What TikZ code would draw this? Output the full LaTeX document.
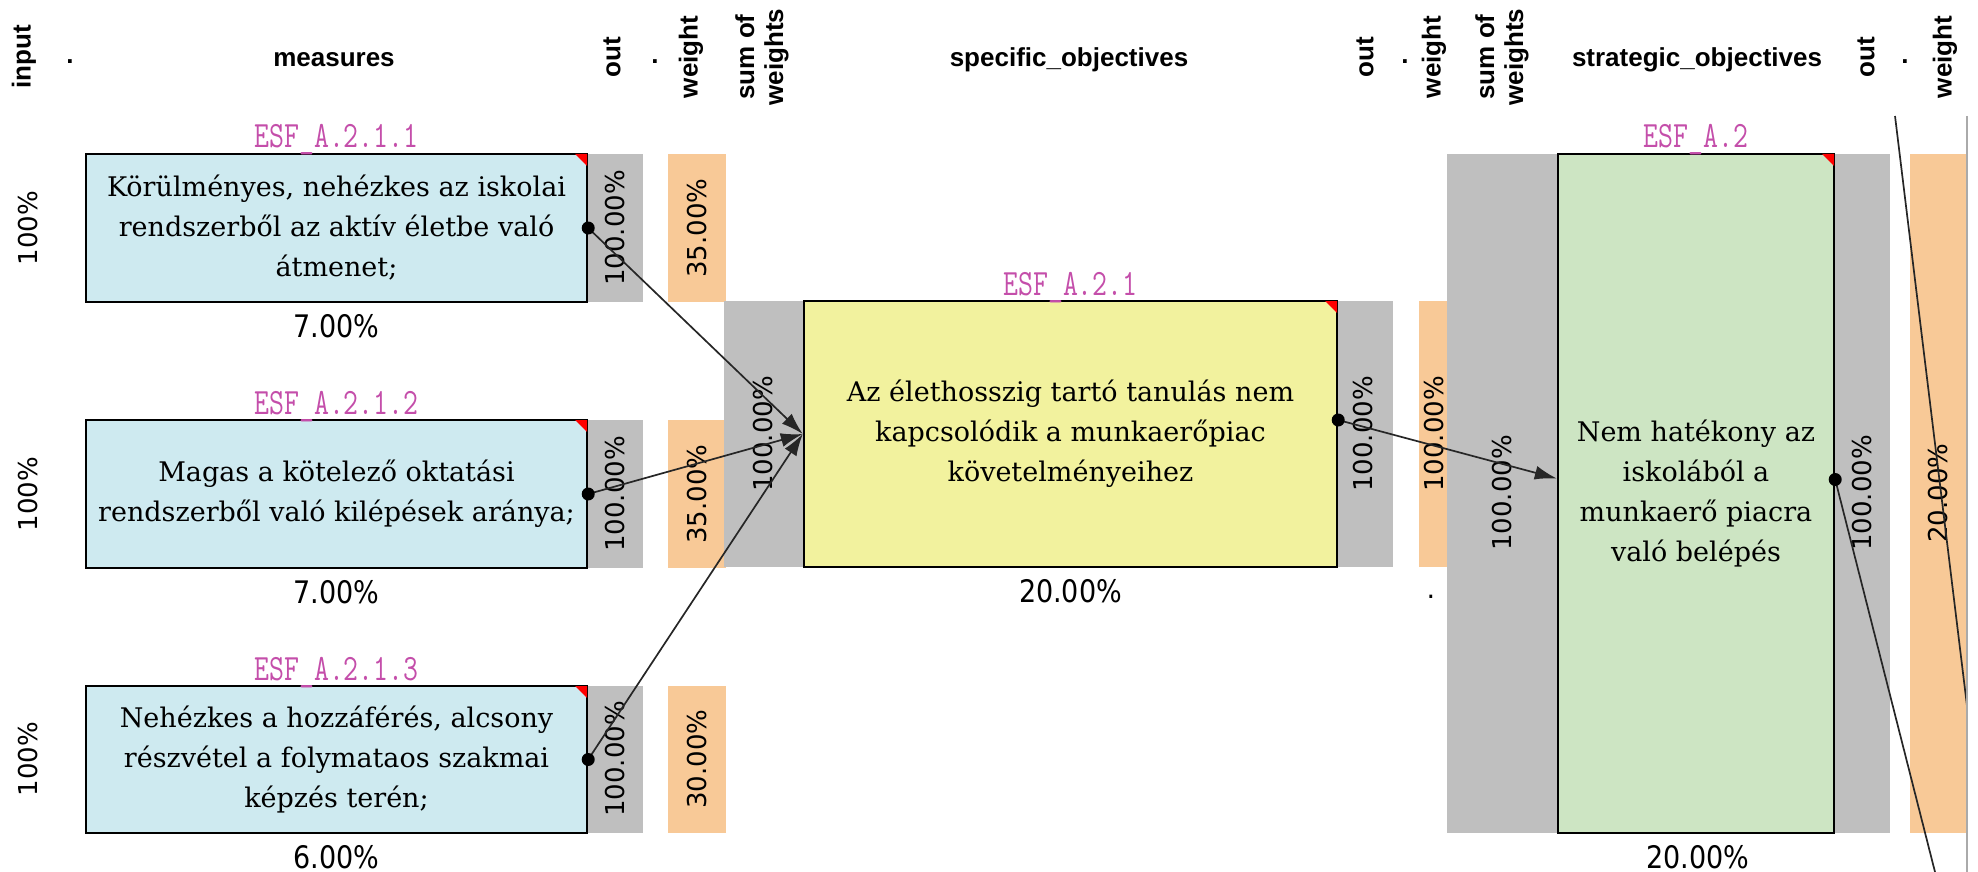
\documentclass[tikz,border=0pt]{standalone}
\usepackage{fontspec}
\usepackage{graphicx}
\setmainfont{DejaVu Serif}
\newfontfamily\hdrfont{Liberation Sans}
\newfontfamily\pctfont{DejaVu Sans}
\usetikzlibrary{arrows.meta,calc}
\definecolor{mblue}{RGB}{206,234,240}
\definecolor{syell}{RGB}{242,242,158}
\definecolor{sgreen}{RGB}{205,229,195}
\definecolor{cgray}{RGB}{191,191,191}
\definecolor{corange}{RGB}{248,201,151}
\definecolor{cpink}{RGB}{196,78,170}
\definecolor{edgegray}{RGB}{170,170,170}
\newcommand{\tallesf}[1]{\scalebox{1}[1.28]{#1}}
\newcommand{\tallpct}[1]{\scalebox{1}[1.15]{#1}}
\begin{document}
\begin{tikzpicture}[x=1pt,y=-1pt,
  hdr/.style={font=\hdrfont\bfseries\fontsize{26}{29}\selectfont, inner sep=0pt, align=center},
  vhdr/.style={hdr, rotate=90},
  pct/.style={font=\pctfont\fontsize{27}{28}\selectfont, inner sep=0pt},
  vpct/.style={font=\pctfont\fontsize{26}{28}\selectfont, inner sep=0pt, rotate=90},
  esf/.style={font=\ttfamily\fontsize{29}{30}\selectfont, text=cpink, inner sep=0pt, anchor=base},
  mbox/.style={draw=black, line width=2.4pt, inner sep=0pt, align=center,
    font=\fontsize{27}{40}\selectfont},
  graycol/.style={fill=cgray},
  orangecol/.style={fill=corange},
  conn/.style={draw=black!85, line width=1.7pt},
  arr/.style={conn, -{Latex[length=22pt,width=14pt]}},
  portdot/.style={fill=black},
  corner/.style={fill=red}
]
\useasboundingbox (0,0) rectangle (1978,872);

% ---------- columns ----------
\fill[graycol] (587,154) rectangle (643,302);
\fill[graycol] (587,420) rectangle (643,568);
\fill[graycol] (587,686) rectangle (643,833);
\fill[orangecol] (668,154) rectangle (726,302);
\fill[orangecol] (668,420) rectangle (726,568);
\fill[orangecol] (668,686) rectangle (726,833);
\fill[graycol] (724,301) rectangle (804,567);
\fill[graycol] (1337,301) rectangle (1393,567);
\fill[orangecol] (1419,301) rectangle (1447,567);
\fill[graycol] (1447,154) rectangle (1558,833);
\fill[graycol] (1834,154) rectangle (1890,833);
\fill[orangecol] (1910,154) rectangle (1966,833);

% ---------- boxes ----------
\node[mbox, fill=mblue, minimum width=501pt, minimum height=148pt] (m1) at (336.5,228)
  {Körülményes, nehézkes az iskolai\\rendszerből az aktív életbe való\\átmenet;};
\node[mbox, fill=mblue, minimum width=501pt, minimum height=148pt] (m2) at (336.5,494)
  {Magas a kötelező oktatási\\rendszerből való kilépések aránya;};
\node[mbox, fill=mblue, minimum width=501pt, minimum height=147pt] (m3) at (336.5,759.5)
  {Nehézkes a hozzáférés, alcsony\\részvétel a folymataos szakmai\\képzés terén;};
\node[mbox, fill=syell, minimum width=533pt, minimum height=266pt] (s1) at (1070.5,434)
  {Az élethosszig tartó tanulás nem\\kapcsolódik a munkaerőpiac\\követelményeihez};
\node[mbox, fill=sgreen, minimum width=276pt, minimum height=679pt] (g1) at (1696,493.5)
  {Nem hatékony az\\iskolából a\\munkaerő piacra\\való belépés};

\foreach \b in {m1,m2,m3,s1,g1}{
  \fill[corner] ($(\b.north east)+(-13,1.2)$) -- ($(\b.north east)+(-1.2,1.2)$) -- ($(\b.north east)+(-1.2,13)$) -- cycle;
}

% ---------- ESF labels ----------
\node[esf] (l1) at (336.5,148) {\tallesf{ESF\_A.2.1.1}};
\node[esf] (l2) at (336.5,414) {\tallesf{ESF\_A.2.1.2}};
\node[esf] (l3) at (336.5,680) {\tallesf{ESF\_A.2.1.3}};
\node[esf] (l4) at (1070.5,295) {\tallesf{ESF\_A.2.1}};
\node[esf] (l5) at (1696,148) {\tallesf{ESF\_A.2}};

% ---------- header ----------
\node[vhdr] (h1) at (24,57) {input};
\node[hdr] (h2) at (70,62) {.};
\node[hdr, anchor=base] (h3) at (334,67) {measures};
\node[vhdr] (h4) at (612,57) {out};
\node[hdr] (h5) at (655,62) {.};
\node[vhdr] (h6) at (691,57) {weight};
\node[vhdr] (h7) at (762,57) {sum of\\weights};
\node[hdr, anchor=base] (h8) at (1069,67) {specific\_objectives};
\node[vhdr] (h9) at (1365,57) {out};
\node[hdr] (h10) at (1405,62) {.};
\node[vhdr] (h11) at (1434,57) {weight};
\node[vhdr] (h12) at (1502,57) {sum of\\weights};
\node[hdr, anchor=base] (h13) at (1697,67) {strategic\_objectives};
\node[vhdr] (h14) at (1866,57) {out};
\node[hdr] (h15) at (1905,62) {.};
\node[vhdr] (h16) at (1945,57) {weight};

% ---------- rotated values ----------
\node[vpct] (i1) at (28,228) {100\%};
\node[vpct] (i2) at (28,494) {100\%};
\node[vpct] (i3) at (28,759) {100\%};
\node[vpct] (o1) at (615,228) {100.00\%};
\node[vpct] (o2) at (615,494) {100.00\%};
\node[vpct] (o3) at (615,759) {100.00\%};
\node[vpct] (w1) at (697,228) {35.00\%};
\node[vpct] (w2) at (697,494) {35.00\%};
\node[vpct] (w3) at (697,759) {30.00\%};
\node[vpct] (sw1) at (763,434) {100.00\%};
\node[vpct] (so1) at (1363,434) {100.00\%};
\node[vpct] (sx1) at (1434,434) {100.00\%};
\node[vpct] (gw1) at (1502,493) {100.00\%};
\node[vpct] (go1) at (1862,493) {100.00\%};
\node[vpct] (gx1) at (1938,493) {20.00\%};

% ---------- values below ----------
\node[pct] (v1) at (336.5,326) {\tallpct{7.00\%}};
\node[pct] (v2) at (336.5,592) {\tallpct{7.00\%}};
\node[pct] (v3) at (336.5,857) {\tallpct{6.00\%}};
\node[pct] (v4) at (1070.5,591) {\tallpct{20.00\%}};
\node[pct] (v5) at (1698,857) {\tallpct{20.00\%}};
\node[pct] (d1) at (1431,597) {.};

% ---------- connectors ----------
\coordinate (s1out) at ([yshift=14pt]s1.east);
\coordinate (g1in) at ([yshift=15pt]g1.west);
\coordinate (g1out) at ([yshift=14pt]g1.east);
\coordinate (offA) at (1895,116);
\coordinate (offB) at (1967,706);
\coordinate (offC) at (1935,872);
\coordinate (edgeT) at (1967,116);
\coordinate (edgeB) at (1967,872);

\draw[arr] (m1.east) -- (s1.west);
\draw[arr] (m2.east) -- (s1.west);
\draw[arr] (m3.east) -- (s1.west);
\draw[arr] (s1out) -- (g1in);
\draw[conn] (g1out) -- (offC);
\draw[conn] (offA) -- (offB);
\draw[draw=edgegray, line width=1.5pt] (edgeT) -- (edgeB);

\fill[portdot] (m1.east) circle (6.5);
\fill[portdot] (m2.east) circle (6.5);
\fill[portdot] (m3.east) circle (6.5);
\fill[portdot] (s1out) circle (6.5);
\fill[portdot] (g1out) circle (6.5);
\end{tikzpicture}
\end{document}
